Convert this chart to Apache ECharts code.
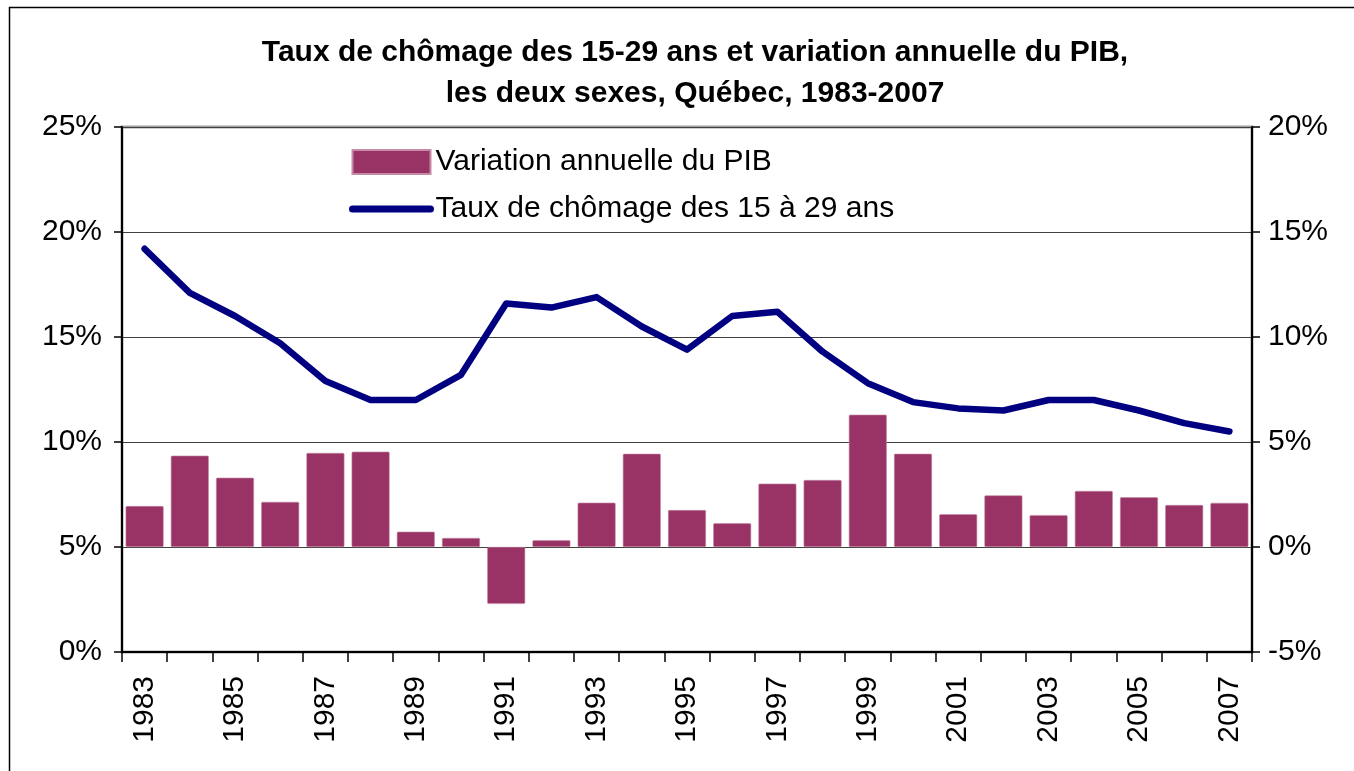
<!DOCTYPE html>
<html>
<head>
<meta charset="utf-8">
<script src="https://cdn.jsdelivr.net/npm/echarts@6/dist/echarts.min.js"></script>
<style>
html,body{margin:0;padding:0;background:#fff;}
#chart{width:1354px;height:771px;}
</style>
</head>
<body>
<div id="chart"></div>
<script>
const years = ['1983','1984','1985','1986','1987','1988','1989','1990','1991','1992','1993','1994','1995','1996','1997','1998','1999','2000','2001','2002','2003','2004','2005','2006','2007'];
const pibVariation = [1.95, 4.35, 3.3, 2.15, 4.48, 4.54, 0.73, 0.43, -2.71, 0.32, 2.11, 4.44, 1.76, 1.13, 3.02, 3.19, 6.3, 4.44, 1.56, 2.46, 1.52, 2.67, 2.37, 2.0, 2.1];
const chomage1529 = [19.2, 17.1, 16.0, 14.7, 12.9, 12.0, 12.0, 13.2, 16.6, 16.4, 16.9, 15.5, 14.4, 16.0, 16.2, 14.3, 12.8, 11.9, 11.6, 11.5, 12.0, 12.0, 11.5, 10.9, 10.5];
const leftTicks = {min: 0, max: 25, interval: 5};
const rightTicks = {min: -5, max: 20, interval: 5};
const seriesNames = ['Variation annuelle du PIB', 'Taux de chômage des 15 à 29 ans'];
const titleText = 'Taux de chômage des 15-29 ans et variation annuelle du PIB,\nles deux sexes, Québec, 1983-2007';

const FONT = '"Liberation Sans", Arial, sans-serif';
const chart = echarts.init(document.getElementById('chart'), null, {renderer: 'canvas'});
chart.setOption({
  animation: false,
  backgroundColor: '#fff',
  textStyle: {fontFamily: FONT},
  graphic: [{
    type: 'rect', left: 7, top: 5, z: -10,
    shape: {width: 1400, height: 800},
    style: {fill: 'none', stroke: '#000', lineWidth: 1.5}
  }],
  title: {
    text: titleText,
    left: 690, top: 27, textAlign: 'center',
    textStyle: {fontFamily: FONT, fontSize: 30, fontWeight: 'bold', color: '#000', lineHeight: 41}
  },
  legend: {
    orient: 'vertical', left: 349, top: 147, padding: 0,
    itemWidth: 78, itemHeight: 24, itemGap: 17,
    textStyle: {fontFamily: FONT, fontSize: 30, color: '#000'},
    data: [
      {name: seriesNames[0], icon: 'rect'},
      {name: seriesNames[1], itemStyle: {opacity: 0}, lineStyle: {color: '#000080', width: 7, cap: 'round'}}
    ]
  },
  grid: {
    left: 122, right: 102, top: 127, bottom: 119,
    show: true, borderColor: '#a0a0a0', borderWidth: 3, backgroundColor: 'transparent'
  },
  xAxis: {
    type: 'category', data: years, boundaryGap: true,
    axisLine: {lineStyle: {color: '#000', width: 2}, onZero: false},
    axisTick: {show: true, interval: 0, length: 10, lineStyle: {color: '#000', width: 1.5}},
    axisLabel: {interval: 1, rotate: 90, margin: 24, fontSize: 30, color: '#000', fontFamily: FONT}
  },
  yAxis: [{
    type: 'value', position: 'left',
    min: leftTicks.min, max: leftTicks.max, interval: leftTicks.interval,
    axisLine: {show: true, lineStyle: {color: '#000', width: 2}},
    axisTick: {show: true, length: 8, lineStyle: {color: '#000', width: 1.5}},
    axisLabel: {formatter: '{value}%', fontSize: 30, color: '#000', margin: 20, fontFamily: FONT},
    splitLine: {show: true, lineStyle: {color: '#404040', width: 1.2}}
  }, {
    type: 'value', position: 'right',
    min: rightTicks.min, max: rightTicks.max, interval: rightTicks.interval,
    axisLine: {show: true, lineStyle: {color: '#000', width: 2}},
    axisTick: {show: true, length: 8, lineStyle: {color: '#000', width: 1.5}},
    axisLabel: {formatter: '{value}%', fontSize: 30, color: '#000', margin: 16, fontFamily: FONT},
    splitLine: {show: false}
  }],
  series: [{
    name: seriesNames[0], type: 'bar', yAxisIndex: 1,
    data: pibVariation, barCategoryGap: '16%',
    itemStyle: {color: '#993366', borderColor: '#c48aa6', borderWidth: 0.6, borderRadius: 1}
  }, {
    name: seriesNames[1], type: 'line', yAxisIndex: 0,
    data: chomage1529, symbol: 'none', showSymbol: false, z: 3,
    lineStyle: {color: '#000080', width: 6.5, cap: 'round', join: 'round'},
    itemStyle: {color: '#000080'}
  }]
});
</script>
</body>
</html>
